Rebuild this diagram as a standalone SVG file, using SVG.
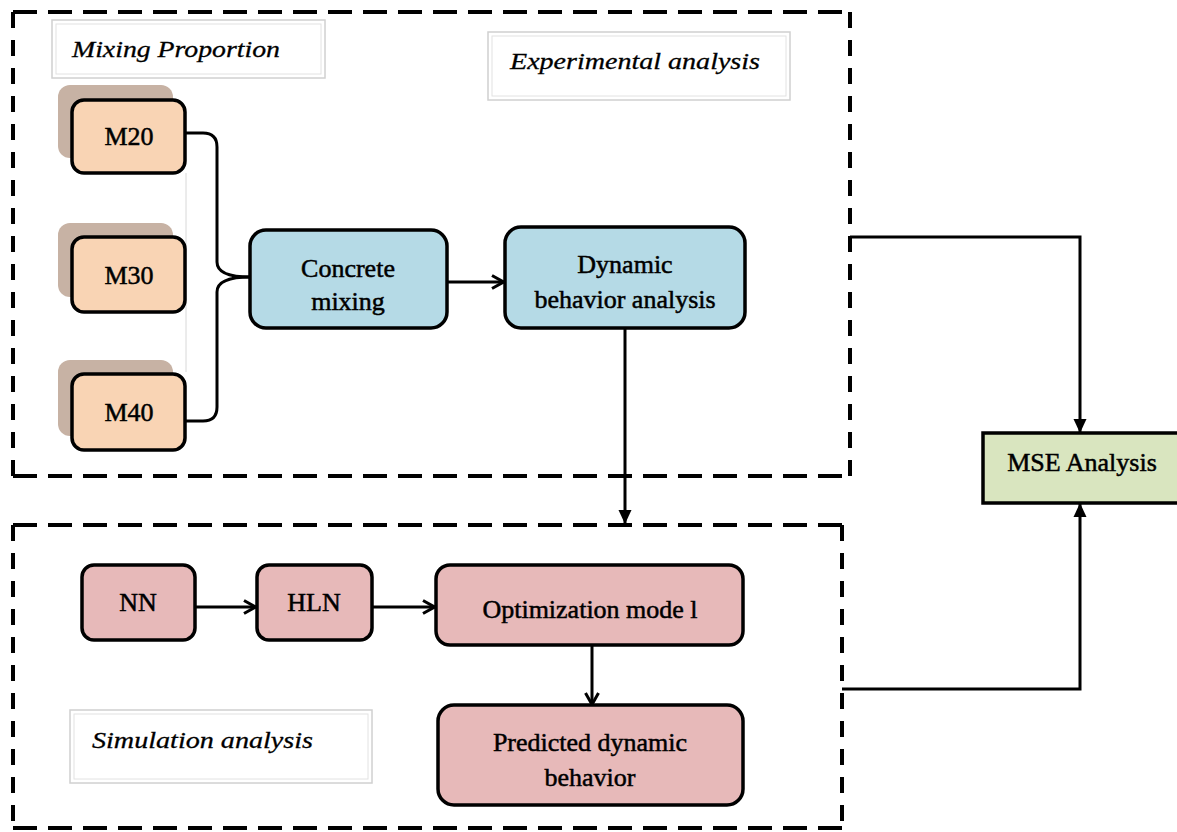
<svg xmlns="http://www.w3.org/2000/svg" width="1177" height="832" viewBox="0 0 1177 832">
<style>
.frame{fill:none;stroke:#000;stroke-width:4}
.hd{stroke-dasharray:24 11}
.vd{stroke-dasharray:16 12}
.node{stroke:#000;stroke-width:3.5}
.peach{fill:#F9D4B4}
.shadow{fill:#C7B2A4}
.blue{fill:#B5DAE6}
.pink{fill:#E7B9B9}
.green{fill:#D9E5BF}
.t{font-family:"Liberation Serif","Times New Roman",serif;font-size:26px;fill:#000;stroke:#000;stroke-width:0.5;text-anchor:middle}
.lab{font-family:"Liberation Serif","Times New Roman",serif;font-style:italic;font-size:24px;fill:#000;stroke:#000;stroke-width:0.3}
.lbox{fill:#fff;stroke:#d0d0d0;stroke-width:1.5}
.lin{fill:none;stroke:#e2e2e2;stroke-width:1}
.c{fill:none;stroke:#000;stroke-width:3}
</style>
<defs>
<marker id="open" viewBox="0 0 16 16" refX="15" refY="8" markerWidth="16" markerHeight="16" markerUnits="userSpaceOnUse" orient="auto">
<path d="M3,1.5 L14.5,8 L3,14.5" fill="none" stroke="#000" stroke-width="3"/>
</marker>
<marker id="fill" viewBox="0 0 14 14" refX="13" refY="7" markerWidth="14" markerHeight="14" markerUnits="userSpaceOnUse" orient="auto">
<path d="M0,0.5 L14,7 L0,13.5 Z" fill="#000"/>
</marker>
</defs>
<rect width="1177" height="832" fill="#fff"/>

<g id="frame-experimental">
<line class="frame hd" x1="13" y1="12" x2="850" y2="12"/>
<line class="frame hd" x1="13" y1="476" x2="850" y2="476"/>
<line class="frame vd" x1="13" y1="12" x2="13" y2="476"/>
<line class="frame vd" x1="850" y1="12" x2="850" y2="476"/>
</g>
<g id="frame-simulation">
<line class="frame hd" x1="13" y1="525" x2="842" y2="525"/>
<line class="frame hd" x1="13" y1="828" x2="842" y2="828"/>
<line class="frame vd" x1="13" y1="525" x2="13" y2="828"/>
<line class="frame vd" x1="842" y1="525" x2="842" y2="828"/>
</g>

<g id="label-mixing">
<rect class="lbox" x="52" y="20" width="273" height="58"/>
<rect class="lin" x="56" y="24" width="265" height="50"/>
<text class="lab" x="72" y="57" textLength="208" lengthAdjust="spacingAndGlyphs">Mixing Proportion</text>
</g>
<g id="label-experimental">
<rect class="lbox" x="488" y="32" width="302" height="68"/>
<rect class="lin" x="492" y="36" width="294" height="60"/>
<text class="lab" x="510" y="69" textLength="250" lengthAdjust="spacingAndGlyphs">Experimental analysis</text>
</g>
<g id="label-simulation">
<rect class="lbox" x="70" y="710" width="302" height="73"/>
<rect class="lin" x="74" y="714" width="294" height="65"/>
<text class="lab" x="92" y="748" textLength="221" lengthAdjust="spacingAndGlyphs">Simulation analysis</text>
</g>

<line x1="186" y1="173" x2="186" y2="372" stroke="#d8d8d8" stroke-width="1"/>

<g id="connectors">
<path class="c" d="M185,133 H203 Q217,133 217,147 V262 Q217,277 250,277"/>
<path class="c" d="M185,421 H203 Q217,421 217,407 V292 Q217,277 250,277"/>
<line class="c" x1="447" y1="282" x2="504" y2="282" marker-end="url(#open)"/>
<line class="c" x1="625" y1="328" x2="625" y2="523" marker-end="url(#fill)"/>
<path class="c" d="M850,237 H1080 V432" marker-end="url(#fill)"/>
<path class="c" d="M842,689 H1080 V504" marker-end="url(#fill)"/>
<line class="c" x1="195" y1="607" x2="256" y2="607" marker-end="url(#open)"/>
<line class="c" x1="372" y1="607" x2="435" y2="607" marker-end="url(#open)"/>
<line class="c" x1="592" y1="645" x2="592" y2="705" marker-end="url(#open)"/>
</g>

<g id="node-m20">
<rect class="shadow" x="58" y="85" width="115" height="73" rx="12"/>
<rect class="node peach" x="72" y="100" width="113" height="73" rx="12"/>
<text class="t" x="129" y="145">M20</text>
</g>
<g id="node-m30">
<rect class="shadow" x="58" y="223" width="115" height="74" rx="12"/>
<rect class="node peach" x="72" y="237" width="113" height="75" rx="12"/>
<text class="t" x="129" y="284">M30</text>
</g>
<g id="node-m40">
<rect class="shadow" x="58" y="360" width="115" height="76" rx="12"/>
<rect class="node peach" x="72" y="374" width="113" height="76" rx="12"/>
<text class="t" x="129" y="421">M40</text>
</g>
<g id="node-concrete">
<rect class="node blue" x="250" y="230" width="197" height="98" rx="16"/>
<text class="t" x="348" y="277">Concrete</text>
<text class="t" x="348" y="310">mixing</text>
</g>
<g id="node-dynamic">
<rect class="node blue" x="505" y="227" width="240" height="101" rx="16"/>
<text class="t" x="625" y="273">Dynamic</text>
<text class="t" x="625" y="308">behavior analysis</text>
</g>
<g id="node-mse">
<rect class="node green" x="983" y="433" width="200" height="70"/>
<text class="t" x="1082" y="471">MSE Analysis</text>
</g>
<g id="node-nn">
<rect class="node pink" x="82" y="565" width="113" height="75" rx="12"/>
<text class="t" x="138" y="611">NN</text>
</g>
<g id="node-hln">
<rect class="node pink" x="257" y="565" width="115" height="75" rx="12"/>
<text class="t" x="314" y="611">HLN</text>
</g>
<g id="node-opt">
<rect class="node pink" x="436" y="565" width="307" height="80" rx="14"/>
<text class="t" x="590" y="618">Optimization mode l</text>
</g>
<g id="node-predicted">
<rect class="node pink" x="438" y="705" width="305" height="100" rx="16"/>
<text class="t" x="590" y="751">Predicted dynamic</text>
<text class="t" x="590" y="786">behavior</text>
</g>
</svg>
